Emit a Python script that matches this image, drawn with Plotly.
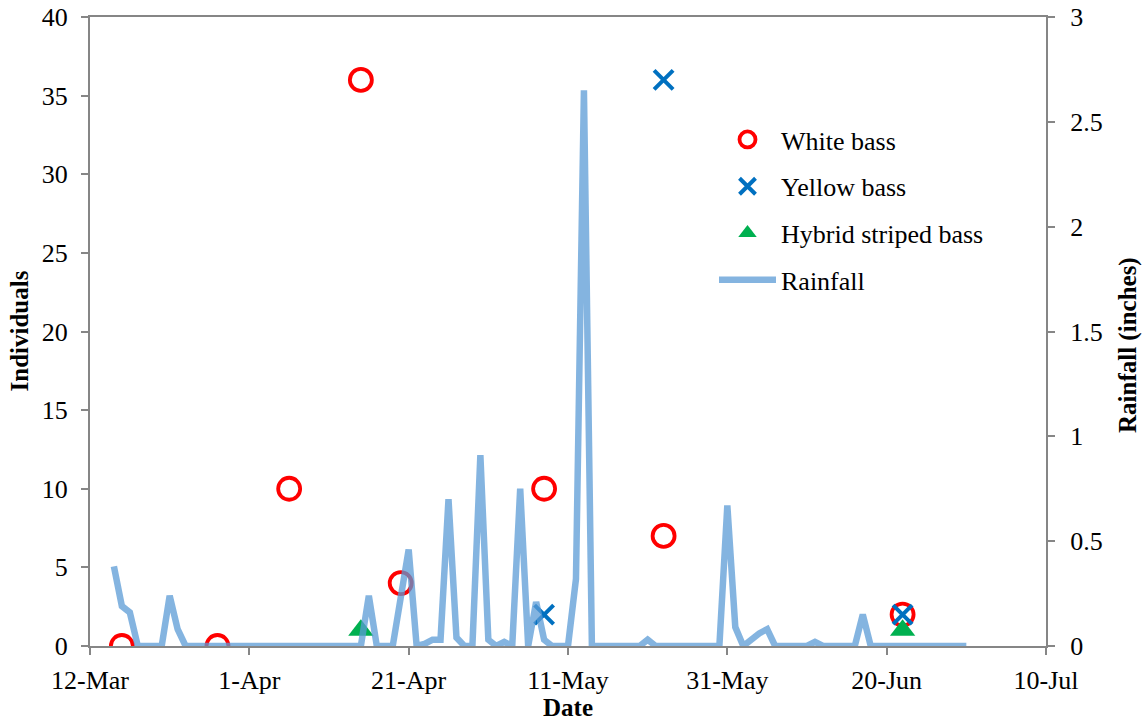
import plotly.graph_objects as go
import pandas as pd

# ---------------- data ----------------
rain_start = "2013-03-15"
rainfall = [
    0.38, 0.19, 0.16,                       # 15-17 Mar
    0, 0, 0, 0,                             # 18-21 Mar
    0.24, 0.08,                             # 22-23 Mar
    0, 0, 0, 0, 0, 0, 0, 0, 0, 0, 0, 0,     # 24 Mar - 4 Apr
    0, 0, 0, 0, 0, 0, 0, 0, 0, 0, 0,        # 5 - 15 Apr
    0.24,                                   # 16 Apr
    0, 0, 0,                                # 17-19 Apr
    0.23, 0.46,                             # 20-21 Apr
    0, 0.01, 0.03, 0.03, 0.70, 0.04, 0, 0, 0.91,   # 22-30 Apr
    0.03, 0, 0.02, 0, 0.75, 0, 0.21, 0.03, 0, 0, 0, 0.32, 2.65, 0,  # 1-14 May
    0, 0, 0, 0, 0, 0,                       # 15-20 May
    0.03,                                   # 21 May
    0, 0, 0, 0, 0, 0, 0, 0, 0,              # 22-30 May
    0.67,                                   # 31 May
    0.09, 0, 0.03, 0.06, 0.08,              # 1-5 Jun
    0, 0, 0, 0, 0,                          # 6-10 Jun
    0.02,                                   # 11 Jun
    0, 0, 0, 0, 0,                          # 12-16 Jun
    0.15,                                   # 17 Jun
    0, 0, 0, 0, 0, 0, 0, 0, 0, 0, 0, 0, 0,  # 18-30 Jun
]
rain_dates = pd.date_range(rain_start, periods=len(rainfall), freq="D")

white_dates = ["2013-03-16", "2013-03-28", "2013-04-06", "2013-04-15",
               "2013-04-20", "2013-05-08", "2013-05-23", "2013-06-22"]
white_vals = [0, 0, 10, 36, 4, 10, 7, 2]

yellow_dates = ["2013-05-08", "2013-05-23", "2013-06-22"]
yellow_vals = [2, 36, 2]

hybrid_dates = ["2013-04-15", "2013-06-22"]
hybrid_vals = [1, 1]

x_tick_dates = ["2013-03-12", "2013-04-01", "2013-04-21", "2013-05-11",
                "2013-05-31", "2013-06-20", "2013-07-10"]
x_tick_labels = ["12-Mar", "1-Apr", "21-Apr", "11-May", "31-May", "20-Jun", "10-Jul"]

y_left_ticks = [0, 5, 10, 15, 20, 25, 30, 35, 40]
y_right_ticks = [0, 0.5, 1, 1.5, 2, 2.5, 3]
y_right_labels = ["0", "0.5", "1", "1.5", "2", "2.5", "3"]

# ---------------- figure ----------------
FONT = "Liberation Serif, Times New Roman, serif"
AXIS_COLOR = "#868686"
TICK_SIZE = 26
TITLE_SIZE = 25

fig = go.Figure()

fig.add_trace(go.Scatter(
    x=white_dates, y=white_vals, mode="markers", name="White bass",
    legendgroup="a",
    marker=dict(symbol="circle-open", size=22, color="#FF0000",
                line=dict(width=3.8, color="#FF0000")),
))
fig.add_trace(go.Scatter(
    x=yellow_dates, y=yellow_vals, mode="markers", name="Yellow bass",
    legendgroup="b",
    marker=dict(symbol="x-thin", size=19, color="#0070C0",
                line=dict(width=4, color="#0070C0")),
))
fig.add_trace(go.Scatter(
    x=hybrid_dates, y=hybrid_vals, mode="markers", name="Hybrid striped bass",
    legendgroup="c",
    marker=dict(symbol="triangle-up", size=22, color="#00B050",
                line=dict(width=0)),
))
fig.add_trace(go.Scatter(
    x=rain_dates, y=rainfall, mode="lines", name="Rainfall", yaxis="y2",
    legendgroup="d",
    line=dict(color="rgba(91,155,213,0.75)", width=6.5),
))

fig.update_layout(
    template="none",
    width=1148, height=721,
    margin=dict(l=90, r=102, t=17, b=75, autoexpand=False),
    paper_bgcolor="white", plot_bgcolor="white",
    font=dict(family=FONT, size=TICK_SIZE, color="black"),
    showlegend=True,
    legend=dict(
        x=(714 - 90) / 956, y=0.8425, xanchor="left", yanchor="top",
        bgcolor="rgba(0,0,0,0)", borderwidth=0,
        font=dict(family=FONT, size=TICK_SIZE, color="black"),
        itemwidth=57, tracegroupgap=10,
    ),
    xaxis=dict(
        type="date", automargin=False,
        range=[x_tick_dates[0], x_tick_dates[-1]],
        tickmode="array", tickvals=x_tick_dates, ticktext=x_tick_labels,
        showgrid=False, zeroline=False,
        showline=True, linecolor=AXIS_COLOR, linewidth=2, mirror=True,
        ticks="outside", ticklen=7, tickwidth=2, tickcolor=AXIS_COLOR,
        tickfont=dict(family=FONT, size=TICK_SIZE, color="black"),
        ticklabelstandoff=3,
    ),
    yaxis=dict(
        automargin=False,
        range=[0, 40], tickmode="array", tickvals=y_left_ticks,
        showgrid=False, zeroline=False,
        showline=True, linecolor=AXIS_COLOR, linewidth=2,
        ticks="outside", ticklen=7, tickwidth=2, tickcolor=AXIS_COLOR,
        tickfont=dict(family=FONT, size=TICK_SIZE, color="black"),
        ticklabelstandoff=8,
    ),
    yaxis2=dict(
        automargin=False,
        overlaying="y", side="right",
        range=[0, 3], tickmode="array", tickvals=y_right_ticks, ticktext=y_right_labels,
        showgrid=False, zeroline=False,
        showline=True, linecolor=AXIS_COLOR, linewidth=2,
        ticks="outside", ticklen=7, tickwidth=2, tickcolor=AXIS_COLOR,
        tickfont=dict(family=FONT, size=TICK_SIZE, color="black"),
        ticklabelstandoff=10,
    ),
    annotations=[
        dict(text="<b>Individuals</b>", xref="paper", yref="paper",
             x=(19 - 90) / 956, y=0.5, textangle=-90, showarrow=False,
             xanchor="center", yanchor="middle",
             font=dict(family=FONT, size=TITLE_SIZE, color="black")),
        dict(text="<b>Date</b>", xref="paper", yref="paper",
             x=0.5, y=(646 - 707) / 629, showarrow=False,
             xanchor="center", yanchor="middle",
             font=dict(family=FONT, size=TITLE_SIZE, color="black")),
        dict(text="<b>Rainfall (inches)</b>", xref="paper", yref="paper",
             x=(1128 - 90) / 956, y=(646 - 345) / 629, textangle=-90, showarrow=False,
             xanchor="center", yanchor="middle",
             font=dict(family=FONT, size=TITLE_SIZE, color="black")),
    ],
)

fig.write_html("out.html")
